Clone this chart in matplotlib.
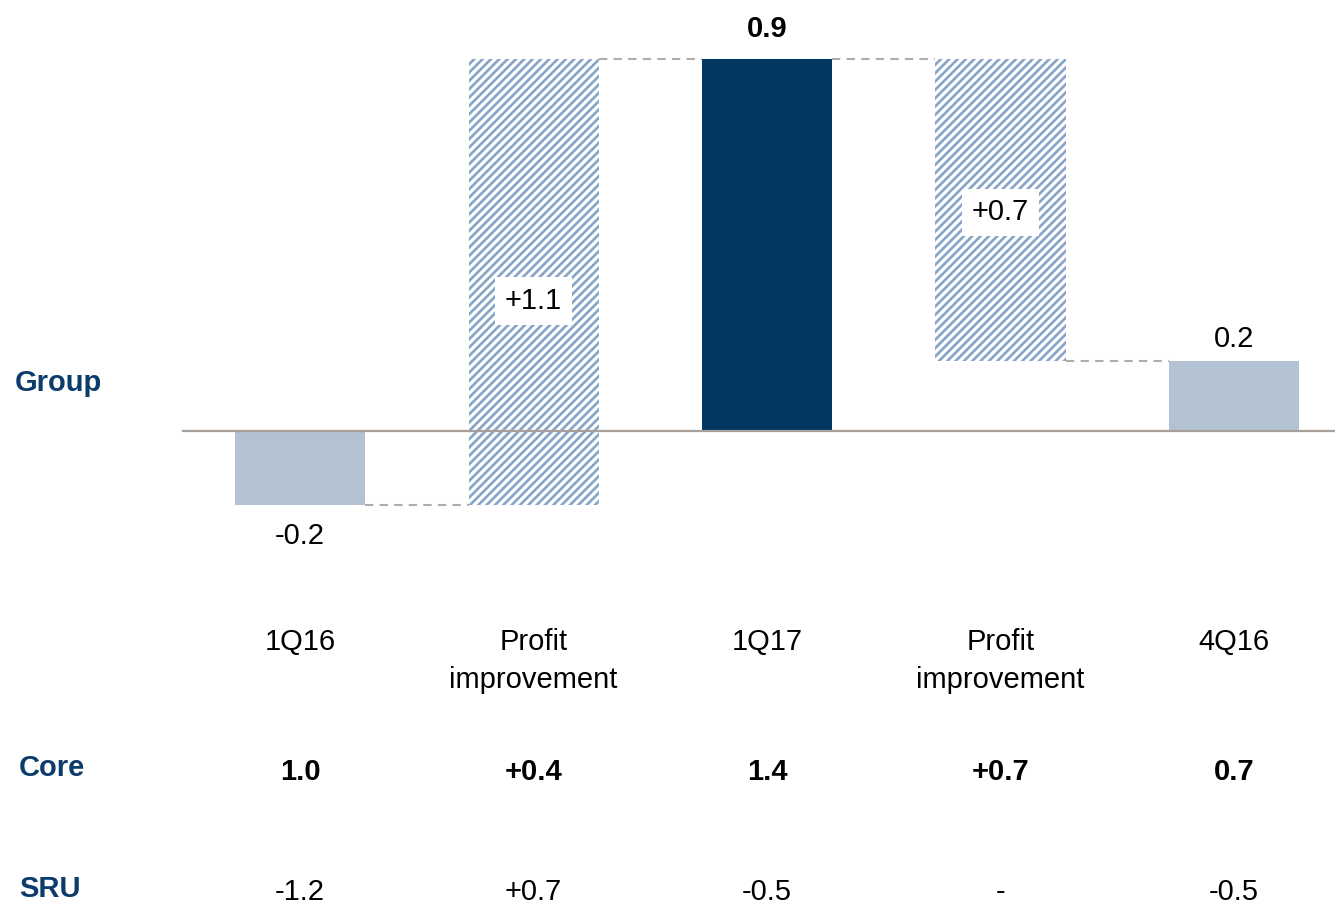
import matplotlib.pyplot as plt

plt.rcParams['font.family'] = ['Liberation Sans', 'DejaVu Sans']
plt.rcParams['hatch.linewidth'] = 1.9

# waterfall data (Group)
categories = ['1Q16', 'Profit\nimprovement', '1Q17', 'Profit\nimprovement', '4Q16']
bar_bottoms = [0.0, -0.18, 0.0, 0.17, 0.0]
bar_heights = [-0.18, 1.08, 0.9, 0.73, 0.17]
group_labels = ['-0.2', '+1.1', '0.9', '+0.7', '0.2']
core_values = ['1.0', '+0.4', '1.4', '+0.7', '0.7']
sru_values = ['-1.2', '+0.7', '-0.5', '-', '-0.5']
row_names = ['Group', 'Core', 'SRU']

light = '#b2c2d2'
dark = '#03375f'
hatch_col = '#86a5c6'
navy = '#0b3c6b'
dash_col = '#b3aba4'


def main():
	fig = plt.figure(figsize=(13.35, 9.06), dpi=100)
	ax = fig.add_axes([0, 0, 1, 1])
	ax.set_xlim(-1.285, 4.4325)
	ax.set_ylim(-1.150, 1.0436)
	ax.axis('off')

	w = 0.557
	x = list(range(len(categories)))

	''' bars '''
	styles = ['solid', 'hatch', 'dark', 'hatch', 'solid']
	for i in x:
		if styles[i] == 'hatch':
			ax.bar(i, bar_heights[i], w, bottom=bar_bottoms[i], color='white',
				edgecolor=hatch_col, linewidth=0, hatch='////', zorder=2)
		else:
			c = dark if styles[i] == 'dark' else light
			ax.bar(i, bar_heights[i], w, bottom=bar_bottoms[i], color=c,
				linewidth=0, zorder=2)

	''' zero line and connectors '''
	ax.plot([-0.501, 4.4325], [0, 0], color='#a79f99', lw=1.6, zorder=3)
	tops = [b + h for b, h in zip(bar_bottoms, bar_heights)]
	links = [(0, 1, tops[0]), (1, 2, tops[2]), (2, 3, tops[2]), (3, 4, tops[4])]
	for a, b, yv in links:
		ax.plot([a + w / 2, b - w / 2], [yv, yv], color=dash_col, lw=1.5,
			ls=(0, (4, 3)), zorder=1)

	''' value labels '''
	fs = 21
	ax.text(0, tops[0] - 0.04, group_labels[0], ha='center', va='top', fontsize=fs)
	ax.text(2, tops[2] + 0.04, group_labels[2], ha='center', va='bottom',
		fontsize=fs, fontweight='bold')
	ax.text(4, tops[4] + 0.02, group_labels[4], ha='center', va='bottom', fontsize=fs)
	for i, yc in [(1, 0.315), (3, 0.53)]:
		ax.text(i, yc, group_labels[i], ha='center', va='center', fontsize=fs,
			zorder=4, bbox=dict(facecolor='white', edgecolor='none', pad=7))

	''' category labels and tables '''
	for i in x:
		ax.text(i, -0.478, categories[i], ha='center', va='top', fontsize=fs,
			linespacing=1.45)
		ax.text(i, -0.826, core_values[i], ha='center', va='center', fontsize=fs,
			fontweight='bold')
		ax.text(i, -1.115, sru_values[i], ha='center', va='center', fontsize=fs)

	ax.text(-1.2206, 0.116, row_names[0], ha='left', va='center', fontsize=21,
		fontweight='bold', color=navy)
	ax.text(-1.2034, -0.816, row_names[1], ha='left', va='center', fontsize=21,
		fontweight='bold', color=navy)
	ax.text(-1.2034, -1.108, row_names[2], ha='left', va='center', fontsize=21,
		fontweight='bold', color=navy)

	fig.savefig('out.png', dpi=100)


if __name__ == '__main__':
	main()
